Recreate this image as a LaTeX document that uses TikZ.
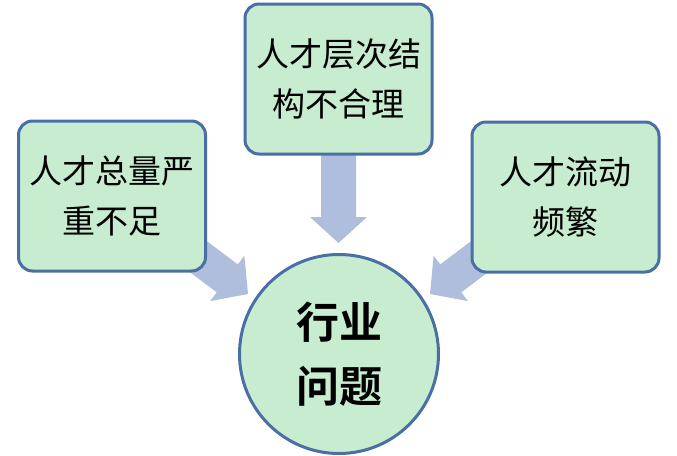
\documentclass[tikz,border=0pt]{standalone}
\usepackage{fontspec}
\setmainfont{Noto Sans CJK SC}[BoldFont={Noto Sans CJK SC Bold}]
\definecolor{boxfill}{HTML}{C8ECD0}
\definecolor{boxline}{HTML}{4A6FA5}
\definecolor{arrowfill}{HTML}{AFBEDC}
\begin{document}
\begin{tikzpicture}[x=1pt,y=-1pt,
  causebox/.style={draw=boxline, fill=boxfill, line width=3pt, rounded corners=14pt,
    minimum width=187pt, minimum height=150pt, align=center, inner sep=0pt,
    font=\fontsize{33}{50}\selectfont},
  problem/.style={circle, draw=boxline, fill=boxfill, line width=3pt, minimum size=199pt,
    align=center, inner sep=0pt, font=\bfseries\fontsize{43}{64}\selectfont},
  blockarrow/.style={fill=arrowfill, draw=none}
]
\useasboundingbox (0,0) rectangle (677,455);
% arrow tips
\coordinate (tipT) at (338.5,243);
\coordinate (tipL) at (248,294);
\coordinate (tipR) at (430,294);
% block arrows (behind boxes)
\foreach \t/\a in {tipT/-90, tipL/-37, tipR/-143}{
  \fill[blockarrow, shift={(\t)}, rotate=\a]
    (0,0) -- (-26,28.5) -- (-26,17.5) -- (-100,17.5) -- (-100,-17.5) -- (-26,-17.5) -- (-26,-28.5) -- cycle;
}
% boxes
\node[causebox] (left) at (112,196) {人才总量严\\重不足};
\node[causebox] (top) at (338.5,79) {人才层次结\\构不合理};
\node[causebox] (right) at (565.5,197) {人才流动\\频繁};
% central circle
\node[problem] (center) at (339,354) {行业\\问题};
\end{tikzpicture}
\end{document}
